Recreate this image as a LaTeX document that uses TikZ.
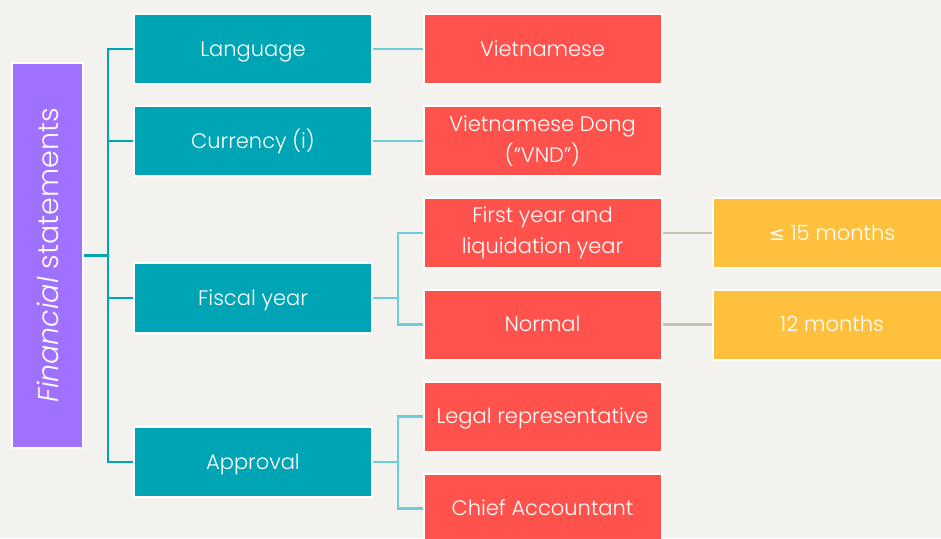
\documentclass[tikz,border=0pt]{standalone}
\usepackage{fontspec}
\setmainfont{Poppins Light}
\begin{document}
\begin{tikzpicture}[x=1pt, y=-1pt]
    \definecolor{bgColour}{HTML}{F3F2EF}
    \definecolor{rootColour}{HTML}{A070FF}
    \definecolor{tealColour}{HTML}{00A5B5}
    \definecolor{redColour}{HTML}{FF524C}
    \definecolor{yellowColour}{HTML}{FFC13D}
    \definecolor{lineTeal}{HTML}{00A5B5}
    \definecolor{lineLight}{HTML}{6CCDD6}
    \definecolor{lineGrey}{HTML}{C9C0B4}
    \tikzset{
        box/.style={draw=white, line width=2pt, text=white, minimum width=238pt,
            minimum height=70pt, align=center, font=\fontsize{21}{31}\selectfont, inner sep=0pt,
            text height=19pt, text depth=5pt},
        twolines/.style={text height={}, text depth={}, yshift=0pt},
        topicbox/.style={box, fill=tealColour},
        itembox/.style={box, fill=redColour},
        valuebox/.style={box, fill=yellowColour},
        rootline/.style={draw=lineTeal, line width=2.5pt},
        itemline/.style={draw=lineLight, line width=2.5pt},
        valueline/.style={draw=lineGrey, line width=2.5pt}
    }

    % Background
    \fill[bgColour] (0,0) rectangle (941,538);
    \useasboundingbox (0,0) rectangle (941,538);

    % Root (rotated, so width runs along the text)
    \node[draw=white, line width=2pt, fill=rootColour, text=white, minimum width=385pt,
        minimum height=71pt, inner sep=0pt, rotate=90,
        font=\fontsize{28.5}{32}\selectfont] (root) at (47.5,255.5)
        {\textit{Financial} statements};

    % Topics
    \node[topicbox] (lang) at (253,49) {Language};
    \node[topicbox] (curr) at (253,141) {Currency (i)};
    \node[topicbox] (fisc) at (253,298) {Fiscal year};
    \node[topicbox] (appr) at (253,462) {Approval};

    % Items
    \node[itembox] (viet) at (542.5,49) {Vietnamese};
    \node[itembox, twolines] (vnd) at (542.5,141) {Vietnamese Dong\\(``VND'')};
    \node[itembox, twolines] (first) at (542.5,233) {First year and\\liquidation year};
    \node[itembox] (norm) at (542.5,324.5) {Normal};
    \node[itembox] (legal) at (542.5,416.5) {Legal representative};
    \node[itembox] (chief) at (542.5,508.5) {Chief Accountant};

    % Values
    \node[valuebox] (short) at (832,233) {{\fontspec{DejaVu Sans}\fontsize{19}{20}\selectfont ≤} 15 months};
    \node[valuebox] (twelve) at (832,324.5) {12 months};

    % Connectors
    \coordinate (trunk) at (108,255.5);
    \coordinate (fsplit) at (398,298);
    \coordinate (asplit) at (398,462);
    \draw[rootline] (root.south) -- (trunk);
    \draw[rootline] (lang.west) -| (trunk) |- (appr.west);
    \draw[rootline] (curr.west) -- (curr.west -| trunk);
    \draw[rootline] (fisc.west) -- (fisc.west -| trunk);

    \draw[itemline] (lang.east) -- (viet.west);
    \draw[itemline] (curr.east) -- (vnd.west);
    \draw[itemline] (fisc.east) -- (fsplit);
    \draw[itemline] (first.west) -| (fsplit) |- (norm.west);
    \draw[itemline] (appr.east) -- (asplit);
    \draw[itemline] (legal.west) -| (asplit) |- (chief.west);

    \draw[valueline] (first.east) -- (short.west);
    \draw[valueline] (norm.east) -- (twelve.west);
\end{tikzpicture}
\end{document}
